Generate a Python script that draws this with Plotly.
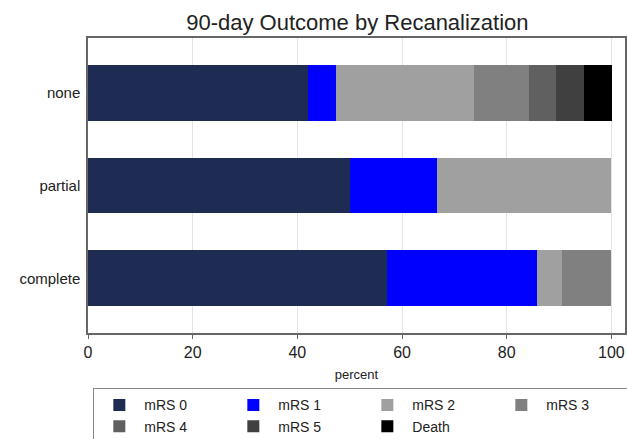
import plotly.graph_objects as go

categories = ["none", "partial", "complete"]
series_names = ["mRS 0", "mRS 1", "mRS 2", "mRS 3", "mRS 4", "mRS 5", "Death"]
colors = ["#1e2b53", "#0000ff", "#a0a0a0", "#808080", "#606060", "#404040", "#000000"]

mrs0 = [42.1, 50.0, 57.1]
mrs1 = [5.3, 16.7, 28.6]
mrs2 = [26.3, 33.3, 4.8]
mrs3 = [10.5, 0.0, 9.5]
mrs4 = [5.3, 0.0, 0.0]
mrs5 = [5.3, 0.0, 0.0]
death = [5.3, 0.0, 0.0]
values = [mrs0, mrs1, mrs2, mrs3, mrs4, mrs5, death]

x_ticks = [0, 20, 40, 60, 80, 100]

FONT = "Liberation Sans, Arial, Helvetica, sans-serif"

fig = go.Figure()
for name, col, vals in zip(series_names, colors, values):
    fig.add_trace(go.Bar(
        y=categories, x=vals, name=name, orientation="h",
        marker=dict(color=col, line=dict(width=0)),
        width=0.6,
    ))

fig.update_layout(
    width=627, height=439,
    barmode="stack",
    paper_bgcolor="white", plot_bgcolor="white",
    margin=dict(l=88, r=2, t=38, b=106, autoexpand=False),
    font=dict(family=FONT, color="#222222"),
    title=dict(text="90-day Outcome by Recanalization", x=0.57, xanchor="center",
               y=0.95, yanchor="middle", font=dict(size=22, color="#222222")),
    showlegend=True,
    legend=dict(
        orientation="h", x=0.009, xanchor="left", y=-0.186, yanchor="top",
        bordercolor="#888888", borderwidth=1.5, bgcolor="white",
        font=dict(size=14, color="#222222"),
        entrywidth=79, entrywidthmode="pixels", traceorder="normal",
        itemwidth=40, tracegroupgap=0,
    ),
    bargap=0.4,
)

fig.update_xaxes(
    range=[0, 102.6], tickvals=x_ticks, ticktext=[str(t) for t in x_ticks],
    showgrid=True, gridcolor="#e3e3e3", gridwidth=1,
    showline=True, linecolor="#666666", linewidth=1.5, mirror=True,
    ticks="outside", ticklen=4, tickcolor="#666666",
    tickfont=dict(size=16, color="#222222"),
    title=dict(text="percent", font=dict(size=13, color="#222222"), standoff=10),
    zeroline=False, automargin=False,
)
fig.update_yaxes(
    categoryorder="array", categoryarray=categories,
    range=[2.59, -0.59],
    showgrid=False, showline=True, linecolor="#666666", linewidth=1.5, mirror=True,
    ticks="", ticklabelstandoff=3,
    tickfont=dict(size=15, color="#222222"),
    automargin=False,
)

fig.write_html(
    "out.html",
    config={"displayModeBar": False},
    post_script="document.body.style.margin='0';document.body.style.overflow='hidden';",
)
